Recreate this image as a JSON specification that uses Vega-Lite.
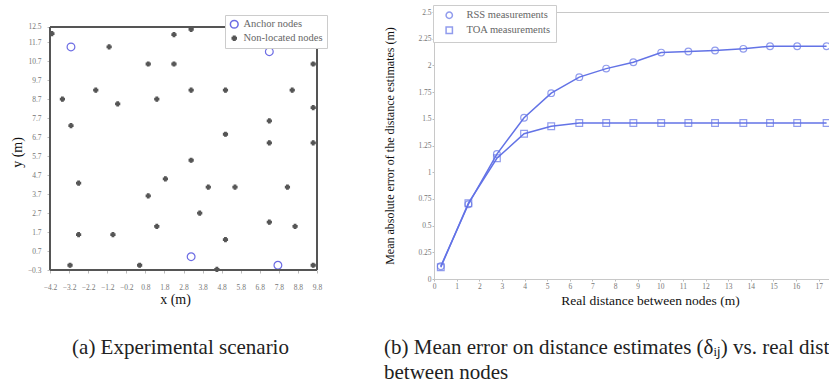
{
  "$schema": "https://vega.github.io/schema/vega-lite/v6.json",
  "padding": {"left": 10, "top": 4, "right": 0, "bottom": 0},
  "background": "white",
  "spacing": 55,
  "resolve": {
    "scale": {"color": "independent", "shape": "independent", "fill": "independent", "stroke": "independent", "size": "independent", "x": "independent", "y": "independent"},
    "legend": {"color": "independent", "shape": "independent", "fill": "independent", "stroke": "independent", "size": "independent"}
  },
  "config": {
    "font": "Liberation Serif",
    "axis": {"labelOverlap": false},
    "legend": {"labelFont": "Liberation Serif", "labelFontSize": 10.5, "labelColor": "#666"}
  },
  "hconcat": [
    {
      "width": 267,
      "height": 258,
      "view": {"stroke": null},
      "title": {"text": "(a)  Experimental scenario", "orient": "bottom", "anchor": "middle", "frame": "group", "dx": -3, "offset": 30, "fontSize": 21, "font": "Liberation Serif", "fontWeight": "normal", "color": "#222"},
      "layer": [
        {
          "data": {"values": [
            {"x": -3.1, "y": 11.45, "type": "Anchor nodes"},
            {"x": 7.3, "y": 11.2, "type": "Anchor nodes"},
            {"x": 3.2, "y": 0.4, "type": "Anchor nodes"},
            {"x": 7.75, "y": -0.05, "type": "Anchor nodes"},
            {"x": -4.1, "y": 12.15, "type": "Non-located nodes"},
            {"x": -1.1, "y": 11.45, "type": "Non-located nodes"},
            {"x": 2.3, "y": 12.1, "type": "Non-located nodes"},
            {"x": 3.2, "y": 12.38, "type": "Non-located nodes"},
            {"x": 0.95, "y": 10.55, "type": "Non-located nodes"},
            {"x": 2.3, "y": 10.55, "type": "Non-located nodes"},
            {"x": 9.6, "y": 10.55, "type": "Non-located nodes"},
            {"x": -1.8, "y": 9.17, "type": "Non-located nodes"},
            {"x": -3.55, "y": 8.7, "type": "Non-located nodes"},
            {"x": -0.65, "y": 8.45, "type": "Non-located nodes"},
            {"x": 1.4, "y": 8.7, "type": "Non-located nodes"},
            {"x": 3.2, "y": 9.17, "type": "Non-located nodes"},
            {"x": 5.0, "y": 9.17, "type": "Non-located nodes"},
            {"x": 8.5, "y": 9.17, "type": "Non-located nodes"},
            {"x": 9.6, "y": 8.25, "type": "Non-located nodes"},
            {"x": -3.1, "y": 7.3, "type": "Non-located nodes"},
            {"x": 7.3, "y": 7.55, "type": "Non-located nodes"},
            {"x": 5.0, "y": 6.85, "type": "Non-located nodes"},
            {"x": 7.3, "y": 6.4, "type": "Non-located nodes"},
            {"x": 9.6, "y": 6.4, "type": "Non-located nodes"},
            {"x": 3.2, "y": 5.48, "type": "Non-located nodes"},
            {"x": -2.7, "y": 4.28, "type": "Non-located nodes"},
            {"x": 1.85, "y": 4.5, "type": "Non-located nodes"},
            {"x": 0.95, "y": 3.6, "type": "Non-located nodes"},
            {"x": 4.1, "y": 4.07, "type": "Non-located nodes"},
            {"x": 5.5, "y": 4.07, "type": "Non-located nodes"},
            {"x": 8.25, "y": 4.07, "type": "Non-located nodes"},
            {"x": 3.65, "y": 2.7, "type": "Non-located nodes"},
            {"x": 1.4, "y": 2.0, "type": "Non-located nodes"},
            {"x": 7.3, "y": 2.22, "type": "Non-located nodes"},
            {"x": 8.65, "y": 2.0, "type": "Non-located nodes"},
            {"x": -2.7, "y": 1.56, "type": "Non-located nodes"},
            {"x": -0.9, "y": 1.56, "type": "Non-located nodes"},
            {"x": 5.0, "y": 1.3, "type": "Non-located nodes"},
            {"x": -3.15, "y": -0.05, "type": "Non-located nodes"},
            {"x": 0.5, "y": -0.05, "type": "Non-located nodes"},
            {"x": 4.55, "y": -0.27, "type": "Non-located nodes"},
            {"x": 9.6, "y": -0.05, "type": "Non-located nodes"}
          ]},
          "mark": {"type": "point", "strokeWidth": 1.2, "opacity": 1},
          "encoding": {
            "x": {"field": "x", "type": "quantitative", "scale": {"domain": [-4.2, 9.8], "nice": false, "zero": false},
                  "axis": {"title": "x (m)", "titleFont": "Liberation Serif", "titleFontWeight": "normal", "titleFontSize": 14, "titleColor": "#111", "titleX": 125,
                           "labelFont": "Liberation Serif", "labelFontSize": 7.5, "labelColor": "#777", "labelOverlap": false, "labelFlush": false, "tickCount": 40,
                           "values": [-4.2, -3.2, -2.2, -1.2, -0.2, 0.8, 1.8, 2.8, 3.8, 4.8, 5.8, 6.8, 7.8, 8.8, 9.8], "format": ".1f", "domain": false, "grid": false, "tickSize": 3, "tickColor": "#bbb", "labelPadding": 10, "titlePadding": 2}},
            "y": {"field": "y", "type": "quantitative", "scale": {"domain": [-0.3, 13.29], "nice": false, "zero": false},
                  "axis": {"title": "y (m)", "titleFont": "Liberation Serif", "titleFontWeight": "normal", "titleFontSize": 14, "titleColor": "#111", "titleY": 140,
                           "labelFont": "Liberation Serif", "labelFontSize": 7.5, "labelColor": "#777", "labelOverlap": false, "labelFlush": false, "tickCount": 40,
                           "values": [-0.3, 0.7, 1.7, 2.7, 3.7, 4.7, 5.7, 6.7, 7.7, 8.7, 9.7, 10.7, 11.7, 12.5], "format": ".1f", "domain": false, "grid": false, "tickSize": 3, "tickColor": "#bbb", "labelPadding": 6, "titlePadding": 3}},
            "shape": {"field": "type", "type": "nominal", "scale": {"domain": ["Anchor nodes", "Non-located nodes"], "range": ["circle", "cross"]},
                      "legend": {"title": null, "orient": "none", "legendX": 175, "legendY": 3, "fillColor": "white", "strokeColor": "#ccc", "padding": 4, "rowPadding": 1}},
            "stroke": {"field": "type", "type": "nominal", "scale": {"domain": ["Anchor nodes", "Non-located nodes"], "range": ["#6c6ce4", "#555555"]},
                      "legend": {"title": null, "orient": "none", "legendX": 175, "legendY": 3, "fillColor": "white", "strokeColor": "#ccc", "padding": 4, "rowPadding": 1}},
            "fill": {"field": "type", "type": "nominal", "scale": {"domain": ["Anchor nodes", "Non-located nodes"], "range": ["transparent", "#555555"]},
                      "legend": {"title": null, "orient": "none", "legendX": 175, "legendY": 3, "fillColor": "white", "strokeColor": "#ccc", "padding": 4, "rowPadding": 1}},
            "size": {"field": "type", "type": "nominal", "scale": {"domain": ["Anchor nodes", "Non-located nodes"], "range": [60, 16]},
                      "legend": {"title": null, "orient": "none", "legendX": 175, "legendY": 3, "fillColor": "white", "strokeColor": "#ccc", "padding": 4, "rowPadding": 1}}
          }
        },
        {"data": {"values": [{}]}, "mark": {"type": "rule", "color": "#555", "strokeWidth": 2},
         "encoding": {"x": {"datum": -4.2, "type": "quantitative"}, "y": {"datum": -0.3, "type": "quantitative"}, "y2": {"datum": 12.5}}},
        {"data": {"values": [{}]}, "mark": {"type": "rule", "color": "#555", "strokeWidth": 2},
         "encoding": {"x": {"datum": 9.8, "type": "quantitative"}, "y": {"datum": -0.3, "type": "quantitative"}, "y2": {"datum": 12.5}}},
        {"data": {"values": [{}]}, "mark": {"type": "rule", "color": "#555", "strokeWidth": 2},
         "encoding": {"y": {"datum": -0.3, "type": "quantitative"}, "x": {"datum": -4.2, "type": "quantitative"}, "x2": {"datum": 9.8}}},
        {"data": {"values": [{}]}, "mark": {"type": "rule", "color": "#555", "strokeWidth": 2},
         "encoding": {"y": {"datum": 12.5, "type": "quantitative"}, "x": {"datum": -4.2, "type": "quantitative"}, "x2": {"datum": 9.8}}}
      ]
    },
    {
      "width": 396,
      "height": 267,
      "view": {"stroke": "#c8c8c8"},
      "title": {"text": ["(b)  Mean error on distance estimates (δᵢⱼ) vs. real distance", "between nodes"], "orient": "bottom", "anchor": "start", "frame": "group", "dx": -50, "offset": 30, "fontSize": 21, "lineHeight": 25, "font": "Liberation Serif", "fontWeight": "normal", "color": "#222"},
      "data": {"values": [
        {"d": 0.3, "err": 0.12, "series": "RSS measurements"},
        {"d": 1.52, "err": 0.7, "series": "RSS measurements"},
        {"d": 2.78, "err": 1.17, "series": "RSS measurements"},
        {"d": 3.98, "err": 1.51, "series": "RSS measurements"},
        {"d": 5.18, "err": 1.74, "series": "RSS measurements"},
        {"d": 6.42, "err": 1.89, "series": "RSS measurements"},
        {"d": 7.61, "err": 1.97, "series": "RSS measurements"},
        {"d": 8.81, "err": 2.03, "series": "RSS measurements"},
        {"d": 10.04, "err": 2.12, "series": "RSS measurements"},
        {"d": 11.24, "err": 2.13, "series": "RSS measurements"},
        {"d": 12.42, "err": 2.14, "series": "RSS measurements"},
        {"d": 13.67, "err": 2.155, "series": "RSS measurements"},
        {"d": 14.85, "err": 2.18, "series": "RSS measurements"},
        {"d": 16.05, "err": 2.18, "series": "RSS measurements"},
        {"d": 17.35, "err": 2.18, "series": "RSS measurements"},
        {"d": 0.3, "err": 0.11, "series": "TOA measurements"},
        {"d": 1.52, "err": 0.71, "series": "TOA measurements"},
        {"d": 2.78, "err": 1.13, "series": "TOA measurements"},
        {"d": 3.98, "err": 1.36, "series": "TOA measurements"},
        {"d": 5.18, "err": 1.43, "series": "TOA measurements"},
        {"d": 6.42, "err": 1.46, "series": "TOA measurements"},
        {"d": 7.61, "err": 1.46, "series": "TOA measurements"},
        {"d": 8.81, "err": 1.46, "series": "TOA measurements"},
        {"d": 10.04, "err": 1.46, "series": "TOA measurements"},
        {"d": 11.24, "err": 1.46, "series": "TOA measurements"},
        {"d": 12.42, "err": 1.46, "series": "TOA measurements"},
        {"d": 13.67, "err": 1.46, "series": "TOA measurements"},
        {"d": 14.85, "err": 1.46, "series": "TOA measurements"},
        {"d": 16.05, "err": 1.46, "series": "TOA measurements"},
        {"d": 17.35, "err": 1.46, "series": "TOA measurements"}
      ]},
      "encoding": {
        "x": {"field": "d", "type": "quantitative", "scale": {"domain": [0, 17.5], "nice": false},
              "axis": {"title": "Real distance between nodes (m)", "titleFont": "Liberation Serif", "titleFontWeight": "normal", "titleFontSize": 13.5, "titleColor": "#111", "titleX": 216,
                       "labelFont": "Liberation Serif", "labelFontSize": 7.5, "labelColor": "#777", "labelOverlap": false, "labelFlush": false,
                       "values": [0,1,2,3,4,5,6,7,8,9,10,11,12,13,14,15,16,17], "domainColor": "#c8c8c8", "grid": false, "tickSize": 2, "tickColor": "#bbb", "labelPadding": 1, "titlePadding": 4}},
        "y": {"field": "err", "type": "quantitative", "scale": {"domain": [0, 2.5], "nice": false},
              "axis": {"title": "Mean absolute error of the distance estimates (m)", "titleFont": "Liberation Serif", "titleFontWeight": "normal", "titleFontSize": 12, "titleColor": "#111",
                       "labelFont": "Liberation Serif", "labelFontSize": 7.5, "labelColor": "#777", "labelOverlap": false, "labelFlush": false,
                       "values": [0, 0.25, 0.5, 0.75, 1, 1.25, 1.5, 1.75, 2, 2.25, 2.5], "labelExpr": "'' + datum.value", "domainColor": "#c8c8c8", "grid": false, "tickSize": 2, "tickColor": "#bbb", "labelPadding": 1, "titlePadding": 21}},
        "color": {"field": "series", "type": "nominal", "scale": {"domain": ["RSS measurements", "TOA measurements"], "range": ["#6373e6", "#6373e6"]},
                  "legend": {"title": null, "orient": "none", "legendX": -1, "legendY": -7, "fillColor": "white", "strokeColor": "#ccc", "padding": 5, "rowPadding": 2, "symbolSize": 40, "symbolOffset": 6, "labelOffset": 12}}
      },
      "layer": [
        {"mark": {"type": "line", "strokeWidth": 1.5}},
        {"mark": {"type": "point", "filled": false, "size": 45, "strokeWidth": 1.2},
         "encoding": {"shape": {"field": "series", "type": "nominal", "scale": {"domain": ["RSS measurements", "TOA measurements"], "range": ["circle", "square"]},
                  "legend": {"title": null, "orient": "none", "legendX": -1, "legendY": -7, "fillColor": "white", "strokeColor": "#ccc", "padding": 5, "rowPadding": 2, "symbolSize": 40, "symbolOffset": 6, "labelOffset": 12}}}}
      ]
    }
  ]
}
